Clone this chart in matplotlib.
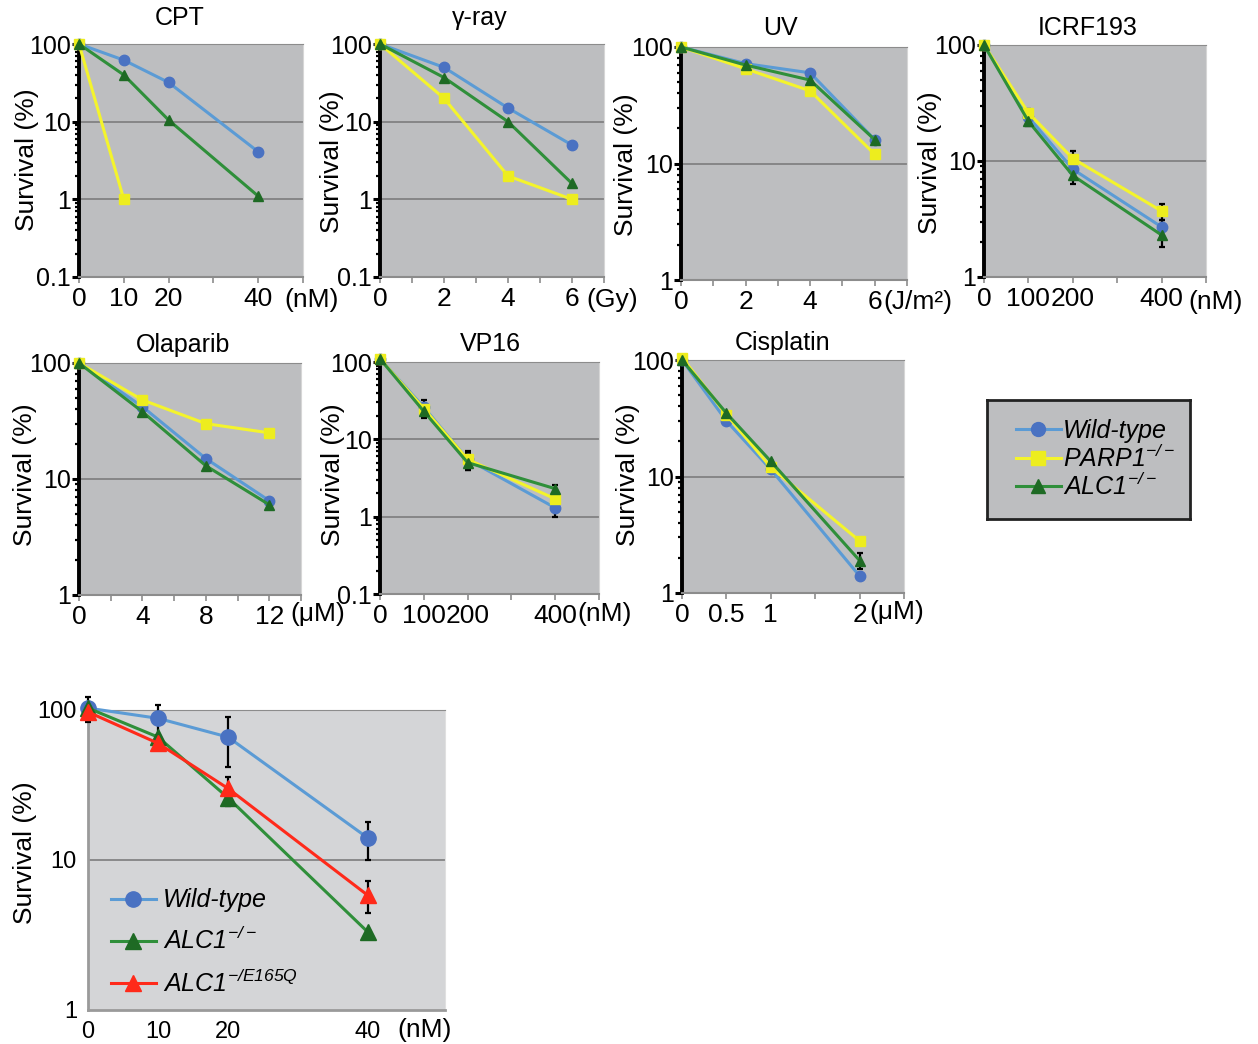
import matplotlib.pyplot as plt
from matplotlib.lines import Line2D
from matplotlib.ticker import NullFormatter, LogLocator
import numpy as np

plt.rcParams['font.family'] = ['Liberation Sans', 'DejaVu Sans']
# mathtext is only used for the italic superscripts in the legends
plt.rcParams['mathtext.fontset'] = 'custom'
plt.rcParams['mathtext.rm'] = 'Liberation Sans:italic'
plt.rcParams['mathtext.it'] = 'Liberation Sans:italic'

W, H = 1258, 1044

# ---- data (survival %) ----
cpt_dose = [0, 10, 20, 40]
cpt_wt = [100, 62, 32, 4.1]
cpt_parp1 = [100, 1.0]
cpt_alc1 = [100, 40, 10.5, 1.1]

gamma_dose = [0, 2, 4, 6]
gamma_wt = [100, 50, 15, 5.0]
gamma_parp1 = [100, 20, 2.0, 1.0]
gamma_alc1 = [100, 37, 10, 1.6]

uv_dose = [0, 2, 4, 6]
uv_wt = [100, 72, 60, 16]
uv_parp1 = [100, 65, 42, 12]
uv_alc1 = [100, 70, 52, 16]

icrf_dose = [0, 100, 200, 400]
icrf_wt = [100, 24, 8.5, 2.7]
icrf_parp1 = [100, 26, 10.5, 3.7]
icrf_alc1 = [100, 22, 7.5, 2.3]
icrf_wt_err = [0, 2, 1.5, 0.4]
icrf_parp1_err = [0, 2, 1.7, 0.6]
icrf_alc1_err = [0, 2, 1.2, 0.5]

olap_dose = [0, 4, 8, 12]
olap_wt = [100, 42, 15, 6.5]
olap_parp1 = [100, 48, 30, 25]
olap_alc1 = [100, 38, 13, 6.0]

vp16_dose = [0, 100, 200, 400]
vp16_wt = [110, 26, 5.5, 1.3]
vp16_parp1 = [110, 25, 5.5, 1.7]
vp16_alc1 = [110, 23, 5.0, 2.3]
vp16_wt_err = [0, 6, 1.5, 0.3]
vp16_parp1_err = [0, 4, 1.2, 0.3]
vp16_alc1_err = [0, 4, 1.0, 0.3]

cis_dose = [0, 0.5, 1, 2]
cis_wt = [100, 30, 11.5, 1.4]
cis_parp1 = [105, 34, 12, 2.8]
cis_alc1 = [100, 35, 13.5, 1.9]
cis_alc1_err = [0, 0, 0, 0.3]

e165_dose = [0, 10, 20, 40]
e165_wt = [103, 88, 66, 14]
e165_alc1 = [103, 66, 26, 3.3]
e165_mut = [97, 60, 30, 5.8]
e165_wt_err = [20, 20, 24, 4]
e165_alc1_err = [0, 0, 3, 0]
e165_mut_err = [0, 5, 6, 1.4]

blue = ('#5b9bd5', '#4a72c2', 'o')
yellow = ('#f4f42c', '#eded1e', 's')
green = ('#2f8f3a', '#1e6a24', '^')
red = ('#ff2a1a', '#ff2a1a', '^')


def px_rect(left, top, right, bottom):
    return [left / W, 1 - bottom / H, (right - left) / W, (bottom - top) / H]


def fig_text(x, y, s, **kw):
    fig.text(x / W, 1 - y / H, s, **kw)


def plot_series(ax, dose, y, style, err=None, ms=7.5):
    x = dose[:len(y)]
    yerr = None
    if err is not None:
        yerr = np.array(err[:len(y)], dtype=float)
    line, mk, marker = style
    ax.errorbar(x, y, yerr=yerr, color=line, lw=2.2, marker=marker, ms=ms,
                mfc=mk, mec=mk, ecolor='black', elinewidth=1.6, capsize=2.5,
                capthick=1.6, clip_on=False, zorder=3)


def panel(rect, title, dose, series, ylim, yticks, ylabels, xmax, xstep):
    ax = fig.add_axes(px_rect(*rect))
    ax.set_facecolor('#bdbec0')
    ax.set_yscale('log')
    ax.set_ylim(*ylim)
    ax.set_xlim(0, xmax)
    for yt in yticks:
        ax.axhline(yt, color='#7d7d7d', lw=1.2, zorder=1)
    for y, style, err in series:
        plot_series(ax, dose, y, style, err)
    ax.set_yticks(yticks)
    ax.set_yticklabels(ylabels, fontsize=18)
    ax.yaxis.set_minor_locator(LogLocator(base=10, subs=np.arange(2, 10)))
    ax.yaxis.set_minor_formatter(NullFormatter())
    ax.tick_params(axis='y', which='major', length=5, width=2.2, pad=1, color='black')
    ax.tick_params(axis='y', which='minor', length=3, width=1.6, color='black')
    ax.set_xticks(np.arange(0, xmax + xstep / 2, xstep), minor=True)
    ax.set_xticks(dose)
    ax.set_xticklabels([('%g' % d) for d in dose], fontsize=19)
    ax.tick_params(axis='x', which='both', length=4, width=1.2, color='#8c8c8c', pad=3)
    ax.spines['left'].set_linewidth(2.8)
    ax.spines['left'].set_color('black')
    ax.spines['bottom'].set_color('#8c8c8c')
    ax.spines['bottom'].set_linewidth(1.5)
    ax.spines['top'].set_color('#8c8c8c')
    ax.spines['right'].set_color('#d6d6d6')
    return ax


fig = plt.figure(figsize=(W / 100, H / 100), dpi=100)

panel((79, 44, 303, 277), 'CPT', cpt_dose,
      [(cpt_wt, blue, None), (cpt_parp1, yellow, None), (cpt_alc1, green, None)],
      (0.1, 100), [0.1, 1, 10, 100], ['0.1', '1', '10', '100'], 50, 10)
panel((380, 44, 604, 277), 'γ-ray', gamma_dose,
      [(gamma_wt, blue, None), (gamma_parp1, yellow, None), (gamma_alc1, green, None)],
      (0.1, 100), [0.1, 1, 10, 100], ['0.1', '1', '10', '100'], 7, 1)
panel((681, 47, 907, 280), 'UV', uv_dose,
      [(uv_wt, blue, None), (uv_parp1, yellow, None), (uv_alc1, green, None)],
      (1, 100), [1, 10, 100], ['1', '10', '100'], 7, 1)
panel((984, 45, 1206, 277), 'ICRF193', icrf_dose,
      [(icrf_wt, blue, icrf_wt_err), (icrf_parp1, yellow, icrf_parp1_err),
       (icrf_alc1, green, icrf_alc1_err)],
      (1, 100), [1, 10, 100], ['1', '10', '100'], 500, 100)
panel((79, 363, 301, 595), 'Olaparib', olap_dose,
      [(olap_wt, blue, None), (olap_parp1, yellow, None), (olap_alc1, green, None)],
      (1, 100), [1, 10, 100], ['1', '10', '100'], 14, 2)
panel((380, 362, 599, 594), 'VP16', vp16_dose,
      [(vp16_wt, blue, vp16_wt_err), (vp16_parp1, yellow, vp16_parp1_err),
       (vp16_alc1, green, vp16_alc1_err)],
      (0.1, 100), [0.1, 1, 10, 100], ['0.1', '1', '10', '100'], 500, 100)
panel((682, 360, 904, 593), 'Cisplatin', cis_dose,
      [(cis_wt, blue, None), (cis_parp1, yellow, None), (cis_alc1, green, cis_alc1_err)],
      (1, 100), [1, 10, 100], ['1', '10', '100'], 2.5, 0.5)

# titles, y labels and dose units
titles = [('CPT', 180, 18), ('γ-ray', 480, 18), ('UV', 780, 28), ('ICRF193', 1088, 28),
          ('Olaparib', 183, 345), ('VP16', 490, 344), ('Cisplatin', 783, 343)]
for s, x, y in titles:
    fig_text(x, y, s, ha='center', va='center', fontsize=18)

for x, y in [(27, 160), (332, 162), (626, 165), (930, 163),
             (25, 475), (333, 475), (628, 475), (25, 853)]:
    fig_text(x, y, 'Survival (%)', ha='center', va='center', rotation=90, fontsize=19)

units = [('(nM)', 312, 300), ('(Gy)', 612, 300), ('(J/m²)', 918, 302), ('(nM)', 1216, 302),
         ('(μM)', 318, 614), ('(nM)', 605, 614), ('(μM)', 897, 612), ('(nM)', 425, 1030)]
for s, x, y in units:
    fig_text(x, y, s, ha='center', va='center', fontsize=19)

# legend box for the seven panels
lax = fig.add_axes(px_rect(987, 400, 1190, 519))
lax.set_facecolor('#bdbec0')
lax.set_xticks([])
lax.set_yticks([])
for sp in lax.spines.values():
    sp.set_linewidth(2)
    sp.set_color('#222222')
handles = [Line2D([], [], color=c[0], marker=c[2], mfc=c[1], mec=c[1], lw=2.2, ms=10)
           for c in (blue, yellow, green)]
lax.legend(handles, ['Wild-type', 'PARP1$^{-/-}$', 'ALC1$^{-/-}$'],
           loc='center left', bbox_to_anchor=(0.08, 0.5), frameon=False,
           prop={'style': 'italic', 'size': 18},
           handlelength=1.8, handletextpad=0.1, labelspacing=0.05, borderpad=0)

# bottom panel
ax = fig.add_axes(px_rect(88, 710, 445, 1010))
ax.set_facecolor('#d4d5d7')
ax.set_yscale('log')
ax.set_ylim(1, 100)
ax.set_xlim(0, 51)
ax.axhline(10, color='#7d7d7d', lw=1.2, zorder=1)
plot_series(ax, e165_dose, e165_wt, blue, e165_wt_err, ms=11)
plot_series(ax, e165_dose, e165_alc1, green, e165_alc1_err, ms=11)
plot_series(ax, e165_dose, e165_mut, red, e165_mut_err, ms=11)
ax.set_yticks([1, 10, 100])
ax.set_yticklabels(['1', '10', '100'], fontsize=17)
ax.yaxis.set_minor_formatter(NullFormatter())
ax.tick_params(axis='y', which='both', length=0, pad=8)
ax.set_xticks(e165_dose)
ax.set_xticklabels([('%g' % d) for d in e165_dose], fontsize=17)
ax.tick_params(axis='x', length=0, pad=8)
ax.spines['left'].set_color('#9a9a9a')
ax.spines['left'].set_linewidth(2)
ax.spines['bottom'].set_color('#9a9a9a')
ax.spines['bottom'].set_linewidth(2)
ax.spines['top'].set_color('#8c8c8c')
ax.spines['right'].set_color('#e0e0e0')
handles = [Line2D([], [], color=c[0], marker=c[2], mfc=c[1], mec=c[1], lw=2.2, ms=11)
           for c in (blue, green, red)]
ax.legend(handles, ['Wild-type', 'ALC1$^{-/-}$', 'ALC1$^{-/E165Q}$'],
          loc='lower left', bbox_to_anchor=(0.0, -0.03), frameon=False,
          prop={'style': 'italic', 'size': 18},
          handlelength=1.8, handletextpad=0.3, labelspacing=0.6)

fig.savefig('out.png', dpi=100)
